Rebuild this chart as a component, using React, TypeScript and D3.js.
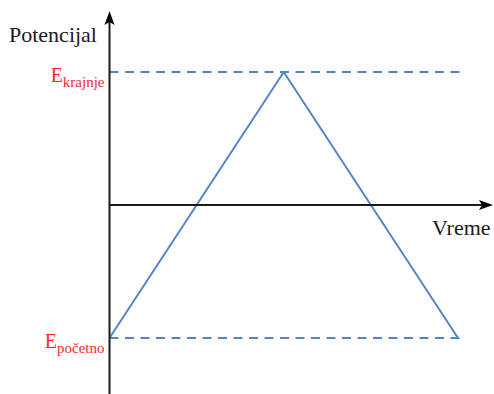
import * as d3 from "d3";

// time in units of the half cycle, potential normalised to the two limits
const times = [0, 1, 2];
const potentials = [-1, 1, -1];
const levels = [
  { value: 1, main: "E", sub: "krajnje", end: 2.02 },
  { value: -1, main: "E", sub: "početno", end: 2.01 },
];
const yTitle = "Potencijal";
const xTitle = "Vreme";

const W = 494;
const H = 394;

const App = () => {
  const x = d3.scaleLinear().domain([0, 2]).range([109.5, 458]);
  const y = d3.scaleLinear().domain([-1, 1]).range([338, 72]);

  const line = d3.line<number>()
    .x((d, i) => x(times[i]))
    .y((d) => y(d));

  const ax = x(0);
  const ay = y(0);
  const font = { fontFamily: "Liberation Serif, Times New Roman, Times, serif" };
  const blue = "#5285c8";
  const red = "#ff2a2a";

  return (
    <svg width={W} height={H} style={{ position: "absolute", left: 0, top: 0 }}>
      {levels.map((l) => (
        <line key={l.sub}
          x1={ax} x2={x(l.end)} y1={y(l.value)} y2={y(l.value)}
          stroke={blue} strokeWidth={2} strokeDasharray="9 6.5" />
      ))}

      <path d={line(potentials) ?? ""} fill="none" stroke={blue} strokeWidth={2} />

      {/* axes */}
      <line x1={ax} x2={ax} y1={H} y2={20} stroke="#1a1a1a" strokeWidth={2} />
      <path d={`M${ax},11 L${ax - 5},25 L${ax},22 L${ax + 5},25 Z`} fill="#000" />
      <line x1={ax} x2={484} y1={ay} y2={ay} stroke="#1a1a1a" strokeWidth={2} />
      <path d={`M493,${ay} L479,${ay - 5} L482,${ay} L479,${ay + 5} Z`} fill="#000" />

      <text x={9} y={41.5} style={font} fontSize={22} fill="#1a1a1a">{yTitle}</text>
      <text x={432} y={235} style={font} fontSize={22} fill="#1a1a1a">{xTitle}</text>

      {levels.map((l) => (
        <text key={l.sub} x={ax - 5} y={y(l.value) + 10} textAnchor="end"
          style={font} fill={red}>
          <tspan fontSize={20}>{l.main}</tspan>
          <tspan fontSize={15} dy={5}>{l.sub}</tspan>
        </text>
      ))}
    </svg>
  );
};

export default App;
